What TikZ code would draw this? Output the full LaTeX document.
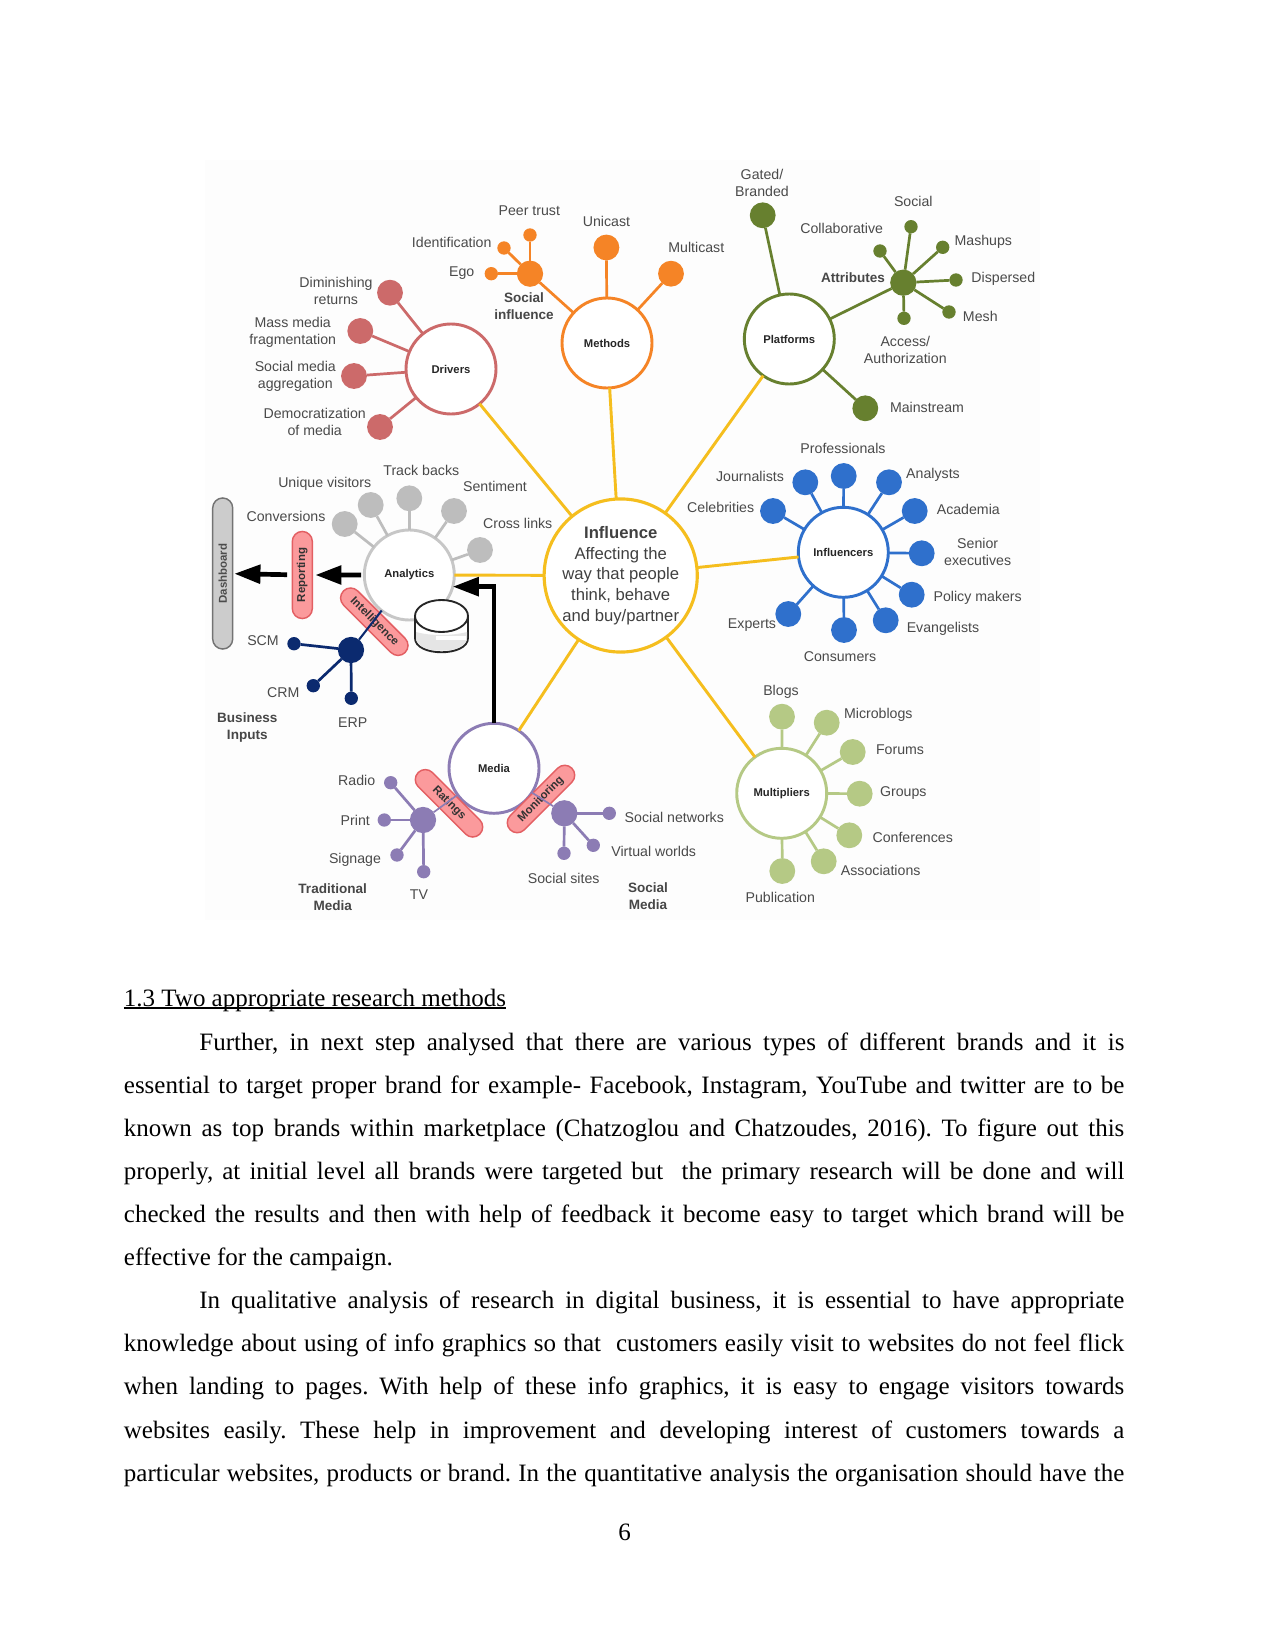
\documentclass[tikz,border=0pt]{standalone}
\usepackage{fontspec}
\setmainfont{Liberation Serif}
\newfontfamily\labelfamily{Liberation Sans}
\usetikzlibrary{arrows.meta,shapes.misc}
\definecolor{cyellow}{HTML}{F5BE1E}
\definecolor{cdrivers}{HTML}{CC6A6A}
\definecolor{cmethods}{HTML}{F58426}
\definecolor{cplatforms}{HTML}{67802F}
\definecolor{cinfluencers}{HTML}{2F70CC}
\definecolor{cmultipliers}{HTML}{B5C985}
\definecolor{cmedia}{HTML}{8C7CB4}
\definecolor{cnavy}{HTML}{0B2A6F}
\definecolor{cgrey}{HTML}{BDBDBD}
\definecolor{cpill}{HTML}{FB9A9C}
\definecolor{cpillline}{HTML}{E35F63}
\definecolor{clabel}{HTML}{4A4A4A}
\definecolor{cpanel}{HTML}{FDFDFD}
\tikzset{
  x=0.48pt, y=-0.48pt,
  mainbubble/.style={circle,draw=#1,line width=1.4pt,fill=white,minimum size=43.2pt,inner sep=0pt,outer sep=0pt,
    font=\labelfamily\bfseries\fontsize{5.4}{6.5}\selectfont,text=black!85},
  bigdot/.style={circle,fill=#1,minimum size=12.4pt,inner sep=0pt,outer sep=0pt},
  smalldot/.style={circle,fill=#1,minimum size=6.4pt,inner sep=0pt,outer sep=0pt},
  hubdot/.style={circle,fill=#1,minimum size=12.6pt,inner sep=0pt,outer sep=0pt},
  spoke/.style={draw=#1,line width=1.3pt},
  trunk/.style={draw=cyellow,line width=1.4pt},
  lbl/.style={font=\labelfamily\fontsize{6.8}{8.2}\selectfont,text=clabel,align=center,inner sep=0pt},
  grouplbl/.style={font=\labelfamily\bfseries\fontsize{6.5}{8.2}\selectfont,text=black!72,align=center,inner sep=0pt},
  pill/.style={rounded rectangle,draw=cpillline,line width=0.7pt,fill=cpill,minimum width=41.8pt,minimum height=9.6pt,
    inner sep=0pt,outer sep=0pt,font=\labelfamily\bfseries\fontsize{5.5}{6}\selectfont,text=black!80},
  greypill/.style={rounded rectangle,draw=black!55,line width=0.7pt,fill=black!20,minimum width=72.5pt,minimum height=9.6pt,
    inner sep=0pt,outer sep=0pt,font=\labelfamily\bfseries\fontsize{5.5}{6}\selectfont,text=black!70},
  bigarrow/.style={draw=black,line width=2.25pt,-{Triangle[length=12.5pt,width=8.8pt]}},
  bodyline/.style={anchor=base west,inner sep=0pt,font=\fontsize{12}{14}\selectfont},
}
\newcommand{\fullline}[1]{\makebox[480.2pt][s]{#1}}
\newcommand{\indentline}[1]{\makebox[444pt][s]{#1}}
\newcommand{\headingrule}[1]{\setbox0=\hbox{#1}\rlap{\rule[-1pt]{\wd0}{0.6pt}}\box0}
\frenchspacing
\begin{document}
\begin{tikzpicture}
\useasboundingbox[fill=white] (0,0) rectangle (1275,1651);
\fill[cpanel] (205,160) rectangle (1040,920);

% central bubble and the seven themes around it
\node[circle,draw=cyellow,line width=1.5pt,fill=white,minimum size=73.5pt,inner sep=0pt,outer sep=0pt,align=center,
      font=\labelfamily\fontsize{8}{9.9}\selectfont,text=black!75] (inf) at (620.7,575.5)
  {{\bfseries Influence}\\Affecting the\\way that people\\think, behave\\and buy/partner};
\node[mainbubble=cdrivers] (drivers) at (451,369) {Drivers};
\node[mainbubble=cmethods] (methods) at (607,343) {Methods};
\node[mainbubble=cplatforms] (platforms) at (789.3,339) {Platforms};
\node[mainbubble=cinfluencers] (influencers) at (843.3,552.3) {Influencers};
\node[mainbubble=cmultipliers] (multipliers) at (781.7,793.3) {Multipliers};
\node[mainbubble=cmedia] (media) at (494,768.3) {Media};
\node[mainbubble=black!22] (analytics) at (409.3,575) {Analytics};
\foreach \t in {drivers,methods,platforms,influencers,multipliers,media,analytics}
  \draw[trunk] (inf) -- (\t);

% drivers
\node[bigdot=cdrivers] (d1) at (390,292.7) {};
\node[bigdot=cdrivers] (d2) at (360.3,331) {};
\node[bigdot=cdrivers] (d3) at (354,376) {};
\node[bigdot=cdrivers] (d4) at (380,427) {};
\foreach \n in {d1,d2,d3,d4} \draw[spoke=cdrivers] (drivers) -- (\n);
\node[lbl] (ld1) at (336,290.7) {Diminishing\\returns};
\node[lbl] (ld2) at (292.7,332.5) {Mass media\\fragmentation};
\node[lbl] (ld3) at (295.3,376.5) {Social media\\aggregation};
\node[lbl] (ld4) at (314.7,421.7) {Democratization\\of media};

% methods and social influence
\node[bigdot=cmethods] (m1) at (606.4,247.5) {};
\node[bigdot=cmethods] (m2) at (671,273.7) {};
\node[hubdot=cmethods] (sihub) at (530,273.7) {};
\node[smalldot=cmethods] (s1) at (530,235) {};
\node[smalldot=cmethods] (s2) at (504,248) {};
\node[smalldot=cmethods] (s3) at (491.3,273.7) {};
\foreach \n in {m1,m2,sihub} \draw[spoke=cmethods] (methods) -- (\n);
\foreach \n in {s1,s2,s3} \draw[spoke=cmethods] (sihub) -- (\n);
\node[lbl] (lm1) at (606.4,221) {Unicast};
\node[lbl] (lm2) at (696.3,247) {Multicast};
\node[lbl] (ls1) at (529.3,210.3) {Peer trust};
\node[lbl] (ls2) at (451.7,242.3) {Identification};
\node[lbl] (ls3) at (461.7,273) {Ego};
\node[grouplbl] (lsi) at (524,306) {Social\\influence};

% platforms and attributes
\node[bigdot=cplatforms] (p1) at (762.7,215.3) {};
\node[bigdot=cplatforms] (p2) at (865.3,408.3) {};
\node[hubdot=cplatforms] (athub) at (903.3,282.7) {};
\node[smalldot=cplatforms] (a1) at (911,226.7) {};
\node[smalldot=cplatforms] (a2) at (880,251) {};
\node[smalldot=cplatforms] (a3) at (942.7,247.3) {};
\node[smalldot=cplatforms] (a4) at (956,280) {};
\node[smalldot=cplatforms] (a5) at (949,312) {};
\node[smalldot=cplatforms] (a6) at (904,318.3) {};
\foreach \n in {p1,p2,athub} \draw[spoke=cplatforms] (platforms) -- (\n);
\foreach \n in {a1,a2,a3,a4,a5,a6} \draw[spoke=cplatforms] (athub) -- (\n);
\node[lbl] (lp1) at (762,182.8) {Gated/\\Branded};
\node[lbl] (lp2) at (927,407.3) {Mainstream};
\node[lbl] (la1) at (913.3,201.7) {Social};
\node[lbl] (la2) at (841.7,228.5) {Collaborative};
\node[lbl] (la3) at (983.3,241.7) {Mashups};
\node[lbl] (la4) at (1003.3,279) {Dispersed};
\node[lbl] (la5) at (980.3,316) {Mesh};
\node[lbl] (la6) at (905.3,349.7) {Access/\\Authorization};
\node[grouplbl] (lat) at (853,277.7) {Attributes};

% influencers
\node[bigdot=cinfluencers] (i1) at (843.7,476) {};
\node[bigdot=cinfluencers] (i2) at (805.3,482.3) {};
\node[bigdot=cinfluencers] (i3) at (773,511) {};
\node[bigdot=cinfluencers] (i4) at (889,482.3) {};
\node[bigdot=cinfluencers] (i5) at (914.7,511) {};
\node[bigdot=cinfluencers] (i6) at (921.7,553.3) {};
\node[bigdot=cinfluencers] (i7) at (911.7,594.7) {};
\node[bigdot=cinfluencers] (i8) at (885.7,620.3) {};
\node[bigdot=cinfluencers] (i9) at (844,630) {};
\node[bigdot=cinfluencers] (i10) at (788.3,614) {};
\foreach \n in {i1,i2,i3,i4,i5,i6,i7,i8,i9,i10} \draw[spoke=cinfluencers] (influencers) -- (\n);
\node[lbl] (li1) at (843,448) {Professionals};
\node[lbl] (li2) at (750,476) {Journalists};
\node[lbl] (li3) at (720.7,507.3) {Celebrities};
\node[lbl] (li4) at (933,474.5) {Analysts};
\node[lbl] (li5) at (968.3,509) {Academia};
\node[lbl] (li6) at (977.7,552) {Senior\\executives};
\node[lbl] (li7) at (977.7,597.5) {Policy makers};
\node[lbl] (li8) at (943,629) {Evangelists};
\node[lbl] (li9) at (840,656.7) {Consumers};
\node[lbl] (li10) at (752,625.5) {Experts};

% multipliers
\node[bigdot=cmultipliers] (u1) at (782,716.7) {};
\node[bigdot=cmultipliers] (u2) at (826.7,722.7) {};
\node[bigdot=cmultipliers] (u3) at (852.7,752) {};
\node[bigdot=cmultipliers] (u4) at (859.7,793.7) {};
\node[bigdot=cmultipliers] (u5) at (849.3,835.3) {};
\node[bigdot=cmultipliers] (u6) at (823.7,861.3) {};
\node[bigdot=cmultipliers] (u7) at (782.3,871) {};
\foreach \n in {u1,u2,u3,u4,u5,u6,u7} \draw[spoke=cmultipliers] (multipliers) -- (\n);
\node[lbl] (lu1) at (781,692.3) {Blogs};
\node[lbl] (lu2) at (878.3,714.7) {Microblogs};
\node[lbl] (lu3) at (900,749.3) {Forums};
\node[lbl] (lu4) at (903.3,793) {Groups};
\node[lbl] (lu5) at (912.7,837.7) {Conferences};
\node[lbl] (lu6) at (880.7,870.3) {Associations};
\node[lbl] (lu7) at (780.3,897.7) {Publication};

% media, with traditional and social branches
\node[pill,rotate=-45] (ratings) at (449,803.3) {Ratings};
\node[pill,rotate=45] (monitoring) at (541,799) {Monitoring};
\node[hubdot=cmedia] (tmhub) at (423,820) {};
\node[smalldot=cmedia] (t1) at (390.7,782.7) {};
\node[smalldot=cmedia] (t2) at (384.3,820) {};
\node[smalldot=cmedia] (t3) at (397,855) {};
\node[smalldot=cmedia] (t4) at (423.7,871.7) {};
\node[hubdot=cmedia] (smhub) at (564.3,813.3) {};
\node[smalldot=cmedia] (v1) at (609.3,813.3) {};
\node[smalldot=cmedia] (v2) at (593.3,845.3) {};
\node[smalldot=cmedia] (v3) at (564,853.3) {};
\foreach \n in {t1,t2,t3,t4} \draw[spoke=cmedia] (tmhub) -- (\n);
\foreach \n in {v1,v2,v3} \draw[spoke=cmedia] (smhub) -- (\n);
\draw[draw=cmedia,line width=0.8pt] (tmhub) -- (media);
\draw[draw=cmedia,line width=0.8pt] (smhub) -- (media);
\node[lbl] (lt1) at (356.7,780.3) {Radio};
\node[lbl] (lt2) at (355.3,820.3) {Print};
\node[lbl] (lt3) at (355,860) {Signage};
\node[lbl] (lt4) at (419,894.3) {TV};
\node[grouplbl] (ltm) at (332.7,897.3) {Traditional\\Media};
\node[lbl] (lv1) at (674.3,817.3) {Social networks};
\node[lbl] (lv2) at (653.7,851) {Virtual worlds};
\node[lbl] (lv3) at (563.7,878.3) {Social sites};
\node[grouplbl] (lsm) at (648,896) {Social\\Media};

% analytics
\node[bigdot=cgrey] (g1) at (344.7,524) {};
\node[bigdot=cgrey] (g2) at (370.7,505) {};
\node[bigdot=cgrey] (g3) at (409.3,498.3) {};
\node[bigdot=cgrey] (g4) at (454,511) {};
\node[bigdot=cgrey] (g5) at (480,550) {};
\foreach \n in {g1,g2,g3,g4,g5} \draw[spoke=cgrey] (analytics) -- (\n);
\node[lbl] (lg1) at (286,516.7) {Conversions};
\node[lbl] (lg2) at (324.7,484) {Unique visitors};
\node[lbl] (lg3) at (421.3,470.7) {Track backs};
\node[lbl] (lg4) at (495,486) {Sentiment};
\node[lbl] (lg5) at (517.7,523.3) {Cross links};

% data store beside the analytics bubble
\draw[black!85,line width=0.9pt,fill=white] (415,616) -- (415,638) .. controls (415,657) and (468,657) .. (468,638) -- (468,616);
\fill[black!10] (416,632) .. controls (430,636) and (452,636) .. (467,632) -- (467,638) .. controls (467,655) and (416,655) .. (416,638) -- cycle;
\fill[white] (436,636) rectangle (466,640);
\draw[black!85,line width=0.9pt,fill=white] (441.5,616) ellipse [x radius=26.5,y radius=16];

% reporting chain and business inputs
\node[pill,rotate=90] (reporting) at (302.3,575) {Reporting};
\node[greypill,rotate=90] (dashboard) at (222.7,573.5) {Dashboard};
\node[pill,rotate=-45] (intelligence) at (374.3,621.7) {Intelligence};
\node[hubdot=cnavy] (bihub) at (351,650) {};
\node[smalldot=cnavy] (b1) at (294,643.7) {};
\node[smalldot=cnavy] (b2) at (313.3,685.7) {};
\node[smalldot=cnavy] (b3) at (351.3,698.3) {};
\foreach \n in {b1,b2,b3} \draw[spoke=cnavy] (bihub) -- (\n);
\draw[draw=cnavy,line width=1pt] (bihub) -- (analytics);
\node[lbl] (lb1) at (263,640.3) {SCM};
\node[lbl] (lb2) at (283.3,692.7) {CRM};
\node[lbl] (lb3) at (352.7,722.7) {ERP};
\node[grouplbl] (lbi) at (247.3,727.7) {Business\\Inputs};

% heavy flow arrows
\draw[bigarrow,shorten <=1.5pt,shorten >=1.5pt] (analytics) -- (reporting);
\draw[bigarrow,shorten <=2.5pt,shorten >=0.8pt] (reporting) -- (dashboard);
\draw[bigarrow] (media.north) |- (analytics.-15);

% running text
\node[bodyline] (head) at (123.5,1006.5) {\headingrule{1.3 Two appropriate research methods}};
\node[bodyline] (t1l) at (199,1050) {\indentline{Further, in next step analysed that there are various types of different brands and it is}};
\node[bodyline] (t2l) at (123.5,1093) {\fullline{essential to target proper brand for example- Facebook, Instagram, YouTube and twitter are to be}};
\node[bodyline] (t3l) at (123.5,1136) {\fullline{known as top brands within marketplace (Chatzoglou and Chatzoudes, 2016). To figure out this}};
\node[bodyline] (t4l) at (123.5,1179) {\fullline{properly, at initial level all brands were targeted but \ the primary research will be done and will}};
\node[bodyline] (t5l) at (123.5,1222) {\fullline{checked the results and then with help of feedback it become easy to target which brand will be}};
\node[bodyline] (t6l) at (123.5,1265) {effective for the campaign.};
\node[bodyline] (t7l) at (199,1308) {\indentline{In qualitative analysis of research in digital business, it is essential to have appropriate}};
\node[bodyline] (t8l) at (123.5,1351) {\fullline{knowledge about using of info graphics so that \ customers easily visit to websites do not feel flick}};
\node[bodyline] (t9l) at (123.5,1394.5) {\fullline{when landing to pages. With help of these info graphics, it is easy to engage visitors towards}};
\node[bodyline] (t10l) at (123.5,1438) {\fullline{websites easily. These help in improvement and developing interest of customers towards a}};
\node[bodyline] (t11l) at (123.5,1481) {\fullline{particular websites, products or brand. In the quantitative analysis the organisation should have the}};
\node[bodyline,anchor=base] (pageno) at (624.5,1540) {6};
\end{tikzpicture}
\end{document}
